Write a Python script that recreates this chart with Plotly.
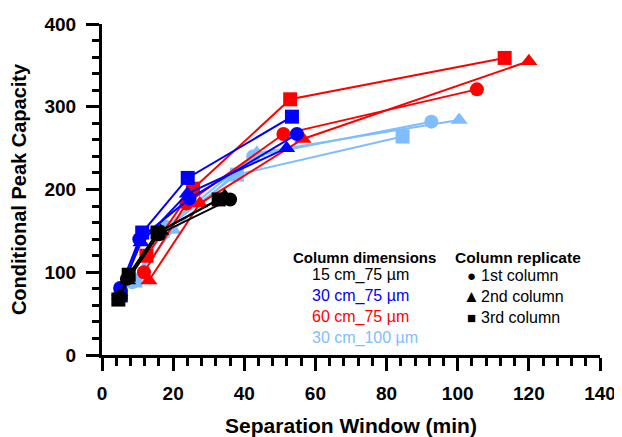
import plotly.graph_objects as go

# Separation window (min) and conditional peak capacity per column dimension and replicate
dims = ["15 cm_75 µm", "30 cm_75 µm", "60 cm_75 µm", "30 cm_100 µm"]
colors = ["#000000", "#0000FF", "#FF0000", "#7FBDFF"]
replicates = ["1st column", "2nd column", "3rd column"]
symbols = ["circle", "triangle-up", "square"]

# 15 cm_75 µm
x_15_1 = [5.2, 7.0, 16.0, 36.0]
y_15_1 = [70, 92, 146, 188]
x_15_2 = [5.0, 7.2, 16.5, 34.5]
y_15_2 = [72, 90, 150, 192]
x_15_3 = [4.6, 7.5, 15.6, 32.8]
y_15_3 = [67, 97, 148, 188]

# 30 cm_75 µm
x_30_1 = [5.1, 10.5, 24.6, 54.8]
y_30_1 = [81, 140, 189, 267]
x_30_2 = [5.0, 11.0, 24.0, 51.9]
y_30_2 = [76, 136, 195, 250]
x_30_3 = [5.3, 11.3, 24.1, 53.4]
y_30_3 = [72, 148, 214, 288]

# 60 cm_75 µm
x_60_1 = [11.8, 23.7, 51.0, 105.4]
y_60_1 = [100, 183, 267, 321]
x_60_2 = [13.2, 27.5, 56.5, 120.0]
y_60_2 = [90, 183, 261, 355]
x_60_3 = [12.5, 25.6, 52.9, 113.2]
y_60_3 = [120, 201, 309, 359]

# 30 cm_100 µm
x_100_1 = [8.5, 18.0, 42.5, 92.6]
y_100_1 = [88, 155, 240, 282]
x_100_2 = [9.0, 20.0, 43.5, 100.4]
y_100_2 = [92, 151, 244, 284]
x_100_3 = [9.4, 17.0, 37.9, 84.5]
y_100_3 = [90, 150, 218, 264]

series = [
    (3, [(x_100_1, y_100_1), (x_100_2, y_100_2), (x_100_3, y_100_3)]),
    (2, [(x_60_1, y_60_1), (x_60_2, y_60_2), (x_60_3, y_60_3)]),
    (1, [(x_30_1, y_30_1), (x_30_2, y_30_2), (x_30_3, y_30_3)]),
    (0, [(x_15_1, y_15_1), (x_15_2, y_15_2), (x_15_3, y_15_3)]),
]

x_ticks = [0, 20, 40, 60, 80, 100, 120, 140]
y_ticks = [0, 100, 200, 300, 400]

FONT = "Liberation Sans, Arial, sans-serif"

fig = go.Figure()
for ci, reps in series:
    for ri, (xs, ys) in enumerate(reps):
        fig.add_trace(go.Scatter(
            x=xs, y=ys, mode="lines+markers",
            line=dict(color=colors[ci], width=2),
            marker=dict(symbol=symbols[ri], size=14 if ri != 1 else 15, color=colors[ci],
                        line=dict(width=0)),
            showlegend=False, cliponaxis=False,
            name=f"{dims[ci]} {replicates[ri]}",
        ))

axis_common = dict(
    showgrid=False, zeroline=False, showline=True, linecolor="black", linewidth=3,
    ticks="outside", ticklen=13, tickwidth=3, tickcolor="black", automargin=False,
    ticklabelstandoff=6,
    tickfont=dict(family=FONT, size=19, color="black", weight="bold"),
)
fig.update_xaxes(
    range=[0, 140], tickvals=x_ticks, ticktext=[str(v) for v in x_ticks],
    minor=dict(dtick=4, ticks="outside", ticklen=8, tickwidth=3, tickcolor="black"),
    title=dict(text="<b>Separation Window (min)</b>", font=dict(family=FONT, size=21, color="black"), standoff=16),
    **axis_common,
)
fig.update_yaxes(
    range=[0, 400], tickvals=y_ticks, ticktext=[str(v) for v in y_ticks],
    minor=dict(dtick=20, ticks="outside", ticklen=7, tickwidth=3, tickcolor="black"),
    title=dict(text="<b>Conditional Peak Capacity</b>", font=dict(family=FONT, size=20, color="black"), standoff=16),
    **axis_common,
)

# The page body has an 8 px default margin, so the figure is offset by (8, 8).
OFF = 8
PL, PR, PT, PB = 102, 592, 24, 355  # plot area in window pixels

def px_x(v):
    return (v - PL) / (PR - PL)

def px_y(v):
    return (PB - v) / (PB - PT)

annotations = []
def add_text(x, y, text, size, color, anchor="left"):
    annotations.append(dict(
        xref="paper", yref="paper", x=px_x(x), y=px_y(y),
        xanchor=anchor, yanchor="middle", showarrow=False, text=text,
        font=dict(family=FONT, size=size, color=color),
    ))

add_text(288, 257, "<b>Column dimensions</b>", 15, "black")
for i, d in enumerate(dims):
    add_text(307, 275 + 21 * i, d, 16, colors[i])
add_text(447, 257, "<b>Column replicate</b>", 15.5, "black")
rep_marks = ["●", "▲", "■"]
rep_mark_sizes = [15, 17, 15]
for i, r in enumerate(replicates):
    add_text(466, 275 + 21 * i, rep_marks[i], rep_mark_sizes[i], "black", anchor="center")
    add_text(473, 275 + 21 * i, r, 16, "black")

fig.update_layout(
    width=622 - OFF, height=437 - OFF,
    margin=dict(l=PL - OFF, r=622 - PR - OFF, t=PT - OFF, b=437 - PB),
    plot_bgcolor="white", paper_bgcolor="white",
    annotations=annotations,
    font=dict(family=FONT),
)

fig.write_html("out.html")
